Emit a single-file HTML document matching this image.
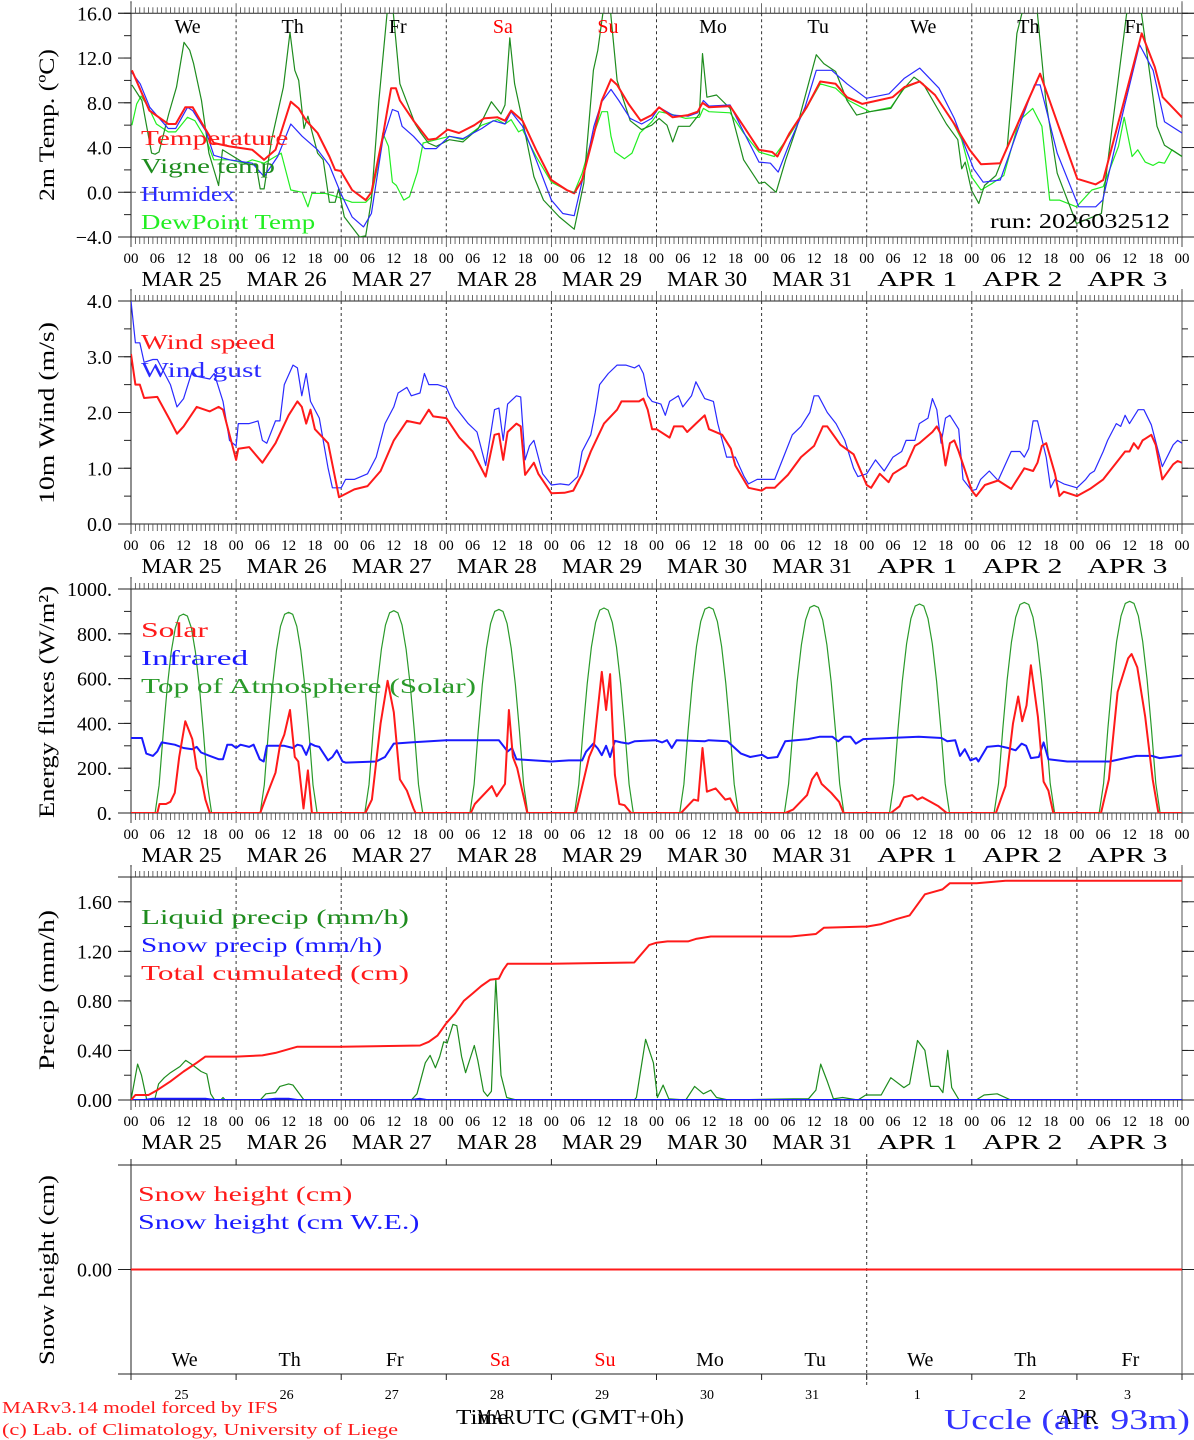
<!DOCTYPE html>
<html><head><meta charset="utf-8"><title>MAR meteogram Uccle</title>
<style>
html,body{margin:0;padding:0;background:#fff;}
svg{display:block;font-family:"Liberation Serif",serif;}
</style></head>
<body>
<svg id="chart" xmlns="http://www.w3.org/2000/svg" width="1194" height="1440" viewBox="0 0 1194 1440"></svg>
<script>
// ---------- DATA ----------
const dayNames = ["We","Th","Fr","Sa","Su","Mo","Tu","We","Th","Fr"];
const dayNameColors = ["#000","#000","#000","#f00","#f00","#000","#000","#000","#000","#000"];
const dateLabels = ["MAR 25","MAR 26","MAR 27","MAR 28","MAR 29","MAR 30","MAR 31","APR  1","APR  2","APR  3"];
const dayNumbers = ["25","26","27","28","29","30","31","1","2","3"];
const hourTickLabels = ["00","06","12","18"];

// Panel 1: temperatures (hour, value)
const tempHours = [0.2,4.2,8.5,10.2,12.4,14.1,16.3,18.9,22.5,27.7,30.4,33,36.5,38.3,40,42.6,45.3,46.6,47.9,50.5,53.6,54.9,57.5,59.4,60.5,61.4,64.5,67.9,69.7,72.3,74.9,78.4,80.6,83.7,85.4,86.8,89.4,92.5,96,99.5,101.2,103,105.6,107.5,109.6,111,113.6,116.4,118.9,120.6,123.7,127.2,129.4,130.5,132,136.8,139.9,143.4,146.4,147.6,150.4,154.3,157.4,160.9,163.5,167,170.5,173.9,176.6,180.1,183.6,188,191.5,194.1,198.5,202.8,207.6,212,216.1,220.3,222,226.8,230.8,233.8,235.6,240];
const tempValues = [10.9,7.3,6.1,6.1,7.6,7.6,6.1,4.4,4.1,3.8,2.9,3.8,8.1,7.5,6.4,5.3,3.2,2.0,1.9,0.2,-0.7,0,5.0,9.3,9.3,8.2,6.4,4.7,4.8,5.6,5.3,6.0,6.6,6.7,6.4,7.3,6.4,3.8,1.1,0.2,-0.1,1.1,5.0,8.2,10.1,9.6,7.9,6.4,6.9,7.6,6.7,6.9,7.2,8.0,7.6,7.7,5.9,3.8,3.6,3.2,5.3,7.6,9.9,9.7,8.5,7.9,8.2,8.5,9.4,9.9,8.7,6.1,3.8,2.5,2.6,6.4,10.6,5.7,1.2,0.7,1.1,8.2,14.2,11.2,8.5,6.7];

const humidexHours = [0.2,2.1,4.3,8.5,10.2,12.9,14.1,17.2,18.9,22.5,27.7,30.4,33.5,36.5,39.1,42.6,45.3,47.9,50.5,53.1,54.9,57.5,59.7,61,61.9,64.5,67.1,69.7,72.7,75.8,80.1,82.7,85.4,86.8,89.4,92.5,96,98.6,101.2,103.8,105.7,107.5,109.6,111.4,114,116.6,118.9,120.6,123.7,127.2,129.4,130.7,132,136.8,139.9,143.4,146,147.8,150.4,153.9,156.5,160,163.5,167.9,173.1,176.6,180.1,184.5,188,192.4,194.6,198.5,202.8,206.3,207.6,211.5,216.4,220.3,221.9,226.8,230.3,233.4,236,240];
const humidexValues = [10.7,9.7,7.6,5.7,5.7,7.6,7.3,5.4,3.3,2.9,2.6,1.4,3.2,6.1,5.0,3.8,2.4,-0.1,-2.2,-3.1,-1.9,4.7,7.4,7.2,5.9,5.0,3.9,3.9,5.0,4.8,5.7,6.4,6.1,7.2,5.9,2.9,-0.7,-1.9,-2.1,2.3,5.9,8.1,9.2,8.2,6.6,6.1,6.6,7.6,6.9,6.8,7.1,8.2,7.7,7.8,5.4,2.7,2.6,1.8,4.4,7.6,10.9,10.9,9.7,8.4,8.8,10.2,11.1,9.3,6.6,2.1,0.9,1.1,5.9,9.6,9.6,3.5,-1.3,-1.3,-0.7,7.6,13.2,10.9,6.3,5.3];

const vigneHours = [0.2,2.5,4.7,5.5,6.4,8.6,10.4,12.1,13.4,14.3,16.1,17.8,20,20.9,25.9,28.6,29.5,30.4,32.1,34.8,36.3,37.4,38.3,39.5,40.4,42.6,43.9,45.3,46.6,47.4,48.7,52.2,53.6,54.9,56.6,59.2,61.4,64.9,66.2,67.9,69.7,72.7,75.8,79.3,82.3,84.5,85.4,86.5,87.6,89.8,92,94.2,97.8,101.2,103.4,105.6,106.6,108.8,111,114,116.6,118.9,120.6,122.4,123.7,125,127.6,129.8,130.5,131.5,133.7,136.8,139.9,143.4,144.7,147.3,149.5,152.1,156.5,158.2,160.9,163.5,165.7,168.7,173.5,176.1,178.8,180.9,186.2,188.8,189.7,190.5,191.9,193.6,194.9,197.5,200.1,202.3,206,208.9,211.5,215.9,221.6,223.4,229,234.3,236,240];
const vigneValues = [9.6,8.2,3.5,3.4,3.6,7.0,9.4,13.4,12.7,11.5,8.2,3.5,0.6,3.8,2.6,2.4,0.3,0.3,4.7,9.4,14.3,10.9,10.0,5.7,6.8,3.5,2.9,-0.9,-0.9,0.3,-2.2,-4.0,-3.9,-0.7,8.2,19,9.7,6.1,5.3,4.4,4.1,4.7,4.5,5.7,8.1,7.0,7.8,13.8,9.7,5.7,1.4,-0.7,-2.2,-3.3,0.8,10.9,12.7,19,10.0,6.4,5.6,6.0,6.6,6.0,4.5,5.9,5.9,7.0,12.4,8.5,8.7,7.5,2.9,0.8,0.9,0,2.9,5.9,12.3,11.5,10.8,8.2,6.9,7.2,7.5,9.1,10.3,9.7,6.1,4.7,2.1,2.7,0.2,-1.0,0.6,1.5,4.1,14.2,20,8.2,1.7,-2.8,-1.9,3.8,21,5.9,4.2,3.2];

const dewHours = [0.2,1.3,2.3,4,5.8,8.5,10.2,12.9,14.6,17.2,18.9,22.5,25.9,27.7,30.4,34.3,36.5,39.1,40.4,41.3,44.4,47,50.5,53.6,54.9,56.6,57.5,58.8,59.7,60.6,62.3,63.6,65.4,66.7,69.7,72.7,75.8,80.1,83.7,85.4,86.8,88.5,89.4,92.5,96,99.5,101.2,103,105.2,107.5,108.8,109.6,110.5,112.7,114.4,116.2,118.9,120.6,123.2,126.7,129.8,130.7,132,136.8,139.9,143.4,146.9,150.4,153.9,157.4,160.9,163.9,168.7,173.5,176.6,180.1,183.6,187.1,189.7,191.9,194.1,196.7,199.3,202.8,205.9,208,209.8,212,214.6,215.9,219.4,222,225.5,226.8,228.6,229.9,231.6,233.4,234.7,236,237.7,240];
const dewValues = [6.0,7.9,8.6,7.6,6.1,5.4,5.4,6.7,6.4,4.7,2.9,2.9,2.6,2.9,2.6,3.5,0.2,0,-1.3,-0.1,-0.1,-0.4,-0.9,-0.9,-0.4,2.9,5.3,4.1,0.9,0.6,-0.7,-0.4,1.8,4.4,4.7,5.0,4.7,6.0,6.5,6.1,6.5,5.4,5.6,3.2,0.9,0.2,0,1.7,4.7,7.2,7.2,5.0,3.6,3.0,3.5,5.3,6.3,7.2,7.0,6.6,6.7,7.5,7.2,7.1,5.3,3.6,3.2,5.1,7.3,9.7,9.3,8.2,7.2,7.6,9.3,9.9,8.7,6.7,4.7,1.4,0.2,0.8,1.5,6.4,7.5,5.9,-0.7,-0.7,-1.1,-1.3,0.2,0.5,4.1,6.7,3.2,3.8,2.7,2.4,2.7,2.6,3.8,3.2];

// Panel 2: wind
const windHours = [0,1,2,3,6,9,10.5,12,15,18,20,21,22.5,24,24.5,27,30,33,36,38,39,40,41,42,45,47.5,48,51,54,57,60,63,66,68,69,72,75,78,81,83,84,85,86,88,89,90,92,93,96,99,101,103,105,108,111,112,114,116,117,118,119,120,123,124,126,127,129,131,132,135,137,138,141,144,145,147,150,153,156,158,159,162,165,168,169,171,173,174,177,179,180,183,184,185,186,187,188,189,192,193,195,198,201,204,206,207,208,209,211,212,213,216,219,222,225,227,228,229,230,231,233,234,235.5,238,239,240];
const windSpeed = [3.05,2.5,2.5,2.26,2.28,1.85,1.62,1.75,2.1,2.02,2.1,2.05,1.6,1.15,1.35,1.38,1.1,1.45,1.95,2.2,2.1,1.8,2.05,1.7,1.45,0.48,0.5,0.62,0.68,0.95,1.5,1.85,1.8,2.05,1.93,1.9,1.55,1.3,0.85,1.6,1.62,1.15,1.65,1.8,1.75,0.88,1.1,0.9,0.55,0.56,0.6,0.9,1.3,1.8,2.05,2.2,2.2,2.2,2.25,2.05,1.7,1.7,1.55,1.75,1.75,1.65,1.8,1.95,1.7,1.6,1.35,1.05,0.65,0.6,0.65,0.65,0.88,1.2,1.4,1.75,1.75,1.42,1.25,0.7,0.65,0.9,0.75,0.9,1.05,1.4,1.45,1.65,1.75,1.6,1.05,1.45,1.5,1.3,0.6,0.5,0.7,0.78,0.63,1.0,0.95,1.1,1.4,1.45,0.9,0.5,0.58,0.5,0.63,0.8,1.1,1.3,1.3,1.45,1.35,1.5,1.6,1.42,0.8,1.07,1.13,1.1];
const gustHours = [0,1,2,3,5,6,9,10.5,12,14,15,18,19,21,22.5,24,24.5,27,29,30,31,33,34,35,37,38,39,40,41,43,45,46,48,49,51,54,56,58,60,61,63,64,66,67,68,70,72,74,77,79,81,83,84,85,86,88,89,90,91,92,93,94,96,98,100,102,103,105,106,107,109,111,113,115,116,117,118,119,121,122,123,125,126,128,129,131,133,134,136,138,140,141,143,147,149,151,153,155,156,157,159,161,163,165,166,168,170,172,174,176,177,179,180,182,183,184,185,186,187,189,190,192,193,194,196,198,201,203,204,205,206,207,209,210,211,213,216,218,219,220,222,223,225,226,227,228,230,231.3,233,235.5,238,239,240];
const windGust = [4.0,3.25,3.25,2.9,2.95,2.95,2.5,2.1,2.25,2.75,2.65,2.6,2.7,2.2,1.5,1.4,1.8,1.8,1.85,1.5,1.45,1.85,1.85,2.5,2.85,2.8,2.3,2.7,2.2,1.9,1.0,0.65,0.65,0.8,0.8,0.9,1.2,1.8,2.1,2.35,2.45,2.3,2.35,2.7,2.5,2.5,2.45,2.1,1.8,1.65,1.05,2.05,2.08,1.5,2.15,2.3,2.28,1.15,1.4,1.5,1.2,0.9,0.7,0.72,0.7,0.85,1.3,1.6,2.0,2.5,2.7,2.85,2.85,2.8,2.85,2.7,2.3,2.2,2.15,1.95,2.2,2.3,2.1,2.3,2.55,2.25,2.2,1.8,1.2,1.2,0.85,0.72,0.8,0.8,1.2,1.6,1.75,2.0,2.3,2.3,2.0,1.8,1.5,1.0,0.85,0.9,1.15,0.95,1.2,1.3,1.5,1.5,1.8,1.9,2.25,2.05,1.45,1.9,1.95,1.7,0.8,0.6,0.62,0.8,0.95,0.78,1.3,1.3,1.2,1.35,1.85,1.85,1.2,0.65,0.8,0.72,0.65,0.8,0.9,0.95,1.3,1.5,1.8,1.75,1.95,1.8,2.05,2.05,1.78,1.03,1.42,1.5,1.45];

// Panel 3: energy fluxes
const solarHours = [0,6,6.5,8,9,10,11,12.4,13,14,15,16,17,18,29.5,31,33,34,35,36.3,37.4,38.2,39.4,40.4,41.3,53.5,55,57,58.6,60,61.4,63,64.5,65,77.6,78.5,82.4,83.5,85.4,86.3,87.2,88.2,90.5,101.6,104.6,105.7,107.5,108.5,109.4,110.5,111.5,112.7,114.2,125.6,128.5,129.5,130.5,131.5,133.5,135.7,136.8,138.5,149.4,151.2,154.4,155.5,156.6,157.7,159.9,161.7,162.7,173.5,175.5,176.5,178.4,179.6,180.7,184.4,186.3,197.5,199.7,201.4,202.6,203.5,204.5,205.5,207.1,208.4,209.5,210.6,221.5,223.3,225.3,227.7,228.5,229.8,231.6,233.3,234.6,240];
const solarValues = [0,0,40,40,50,90,250,410,380,330,200,160,60,0,0,80,180,300,350,460,250,230,20,190,0,0,60,400,590,450,150,100,20,0,0,40,120,75,130,460,250,200,0,0,250,300,630,460,620,170,40,35,0,0,60,55,290,95,110,60,65,0,0,15,80,150,180,130,90,50,0,0,30,70,80,60,70,30,0,0,120,400,520,410,480,660,430,140,100,0,0,150,540,690,710,650,430,150,0,0];
const irHours = [0,2.5,3.5,5,6,7,10,12,14,15,16,18,20,21,22,23,24,25,27,28,29.4,30.3,31,35,37,38,39,40,41,42,43,45,46,47,48.3,49,56,58,60,64,72,84,86,87,88,92,96,100,103,103.9,105.6,106.6,107.5,108.5,109.4,110.5,111.9,113.6,115,119.8,121.3,122.4,123.5,124.6,131,131.9,136.2,139.3,141.4,144.1,145.4,147.6,149.4,154.6,157.2,160.2,161.5,162.8,164.3,165.5,167.2,179.9,185.1,186.4,188.2,189.3,190.4,191.7,193,193.5,195.5,198.1,200.3,202,203.4,204.4,205.5,207.3,208.4,209.5,213.8,223.5,227,229.6,233.1,234.9,239.3,240];
const irValues = [335,335,265,255,275,315,305,290,285,295,270,255,240,240,305,305,290,305,295,305,240,230,300,300,290,305,300,260,310,300,295,235,250,280,230,225,230,250,310,315,325,325,275,290,240,235,230,235,235,273,310,288,258,300,250,322,315,310,320,325,315,325,290,325,320,325,320,265,250,260,245,250,320,330,340,340,320,340,340,310,330,340,335,320,325,255,285,235,245,230,295,300,290,280,310,300,245,250,315,240,230,230,245,255,255,245,255,258];
// TOA solar: daily peak, and daylight window
const toaPeak = [888,896,903,909,915,919,927,933,940,945];
const toaRise = [5.5,5.5,5.4,5.4,5.3,5.3,5.2,5.2,5.1,5.1];
const toaSet = [18.4,18.5,18.6,18.6,18.7,18.7,18.8,18.9,18.9,19.0];
const toaProfile = [0,0.14,0.4,0.63,0.81,0.93,0.99,1,0.99,0.93,0.81,0.63,0.4,0.14,0];

// Panel 4: precipitation
const cumHours = [0,1,4,6,9,12,15,17,24,30,33,36,38,48,66,68,70,72,74,76,78,80,82,84,85,86,96,114.9,118.3,120,122.5,127.2,129,132.4,144,150.7,156.4,158.2,166.9,168,171.3,174.8,177.8,181.3,185.3,187,193.1,199.7,240];
const cumValues = [0,0.04,0.04,0.08,0.15,0.23,0.30,0.35,0.35,0.36,0.38,0.41,0.43,0.43,0.44,0.47,0.52,0.62,0.70,0.80,0.86,0.92,0.97,0.98,1.05,1.1,1.1,1.11,1.25,1.27,1.28,1.28,1.30,1.32,1.32,1.32,1.34,1.39,1.40,1.40,1.42,1.46,1.49,1.66,1.70,1.75,1.75,1.77,1.77];
const liqHours = [0,1.5,2.4,3.6,5.4,6.3,7.6,9,11.2,12.5,13.8,16,17.3,18.2,19.1,20.5,21,21.5,29.5,30.8,33,34,36,37,39.5,64,65.3,67.2,68.3,69.5,70.5,71.4,72.2,73.5,74.4,75.5,76.4,78.4,79.2,80.5,81.4,82.3,83.3,84.5,85.8,88,114.9,115.4,117.5,119.3,120.2,121.5,122.8,126.7,128.7,130.7,132.4,133.7,136.4,151.2,154.7,156.4,157.5,159,160.4,162.5,166,167.8,171.3,173.5,176.5,177.8,179.6,181.3,182.6,184.4,185.4,186.5,187.4,189.1,193,194.8,197.8,200.9,240];
const liqValues = [0,0.29,0.2,0,0,0.13,0.18,0.22,0.27,0.32,0.29,0.23,0.21,0.05,0,0,0.02,0,0,0.05,0.06,0.11,0.13,0.12,0,0,0.05,0.30,0.36,0.26,0.35,0.47,0.46,0.61,0.60,0.35,0.22,0.44,0.32,0.07,0.03,0.07,0.98,0.2,0.02,0,0,0.02,0.49,0.3,0.02,0.12,0.01,0,0.11,0.05,0.08,0.02,0,0.01,0.01,0.08,0.29,0.15,0.01,0.02,0,0.04,0.04,0.18,0.1,0.13,0.48,0.4,0.11,0.11,0.06,0.4,0.1,0,0,0.04,0.05,0,0];
const snowPHours = [0,3,5,10,17,19,24,30,33,36,38,64,66,67.5,240];
const snowPValues = [0,0,0.01,0.01,0.01,0,0,0,0.01,0.01,0,0,0.01,0,0];

// Panel 5: snow height
const snowHours = [0,240];
const snowHeight = [0,0];

// ---------- DRAWING ----------
const NS = "http://www.w3.org/2000/svg";
const svg = document.getElementById("chart");
const X0 = 131, X1 = 1182, HMAX = 240;
function xOf(h){ return X0 + h*(X1-X0)/HMAX; }
function mk(tag, attrs, parent){
  const e = document.createElementNS(NS, tag);
  for (const k in attrs) e.setAttribute(k, attrs[k]);
  (parent||svg).appendChild(e);
  return e;
}
function txt(s, x, y, size, color, anchor, parent, len){
  const t = mk("text", {x:x, y:y, "font-size":size, fill:color||"#000", "text-anchor":anchor||"start"}, parent);
  if (len){ t.setAttribute("textLength", len); t.setAttribute("lengthAdjust","spacingAndGlyphs"); }
  t.setAttribute("xml:space","preserve");
  t.textContent = s;
  return t;
}
const panels = [
  {id:"temp", top:13.3, bottom:237, min:-4, max:16, major:[-4,0,4,8,12,16], labels:["\u22124.0","0.0","4.0","8.0","12.0","16.0"], minorStep:2, title:"2m Temp. (\u00baC)", tcy:125, tlen:152},
  {id:"wind", top:301, bottom:524, min:0, max:4, major:[0,1,2,3,4], labels:["0.0","1.0","2.0","3.0","4.0"], minorStep:0.5, title:"10m Wind (m/s)", tcy:413, tlen:182},
  {id:"energy", top:589, bottom:813, min:0, max:1000, major:[0,200,400,600,800,1000], labels:["0.","200.","400.","600.","800.","1000."], minorStep:100, title:"Energy fluxes (W/m\u00b2)", tcy:702, tlen:232},
  {id:"precip", top:877, bottom:1100, min:0, max:1.8, major:[0,0.4,0.8,1.2,1.6], labels:["0.00","0.40","0.80","1.20","1.60"], minorStep:0.2, title:"Precip (mm/h)", tcy:990, tlen:160},
  {id:"snow", top:1165, bottom:1374, min:-1, max:1, major:[0], labels:["0.00"], minorStep:0, title:"Snow height (cm)", tcy:1270, tlen:190}
];
function yOf(p, v){ return p.bottom - (v-p.min)/(p.max-p.min)*(p.bottom-p.top); }

panels.forEach((p, i) => {
  const g = mk("g", {});
  
  
  const clip = mk("clipPath", {id:"clip-"+p.id}, g);
  mk("rect", {x:X0, y:p.top, width:X1-X0, height:p.bottom-p.top}, clip);
  const ax = mk("g", {stroke:"#222", "stroke-width":1, fill:"none"}, g);
  
  
  const isSnow = p.id === "snow";
  mk("line", {x1:118, y1:p.top, x2:1194, y2:p.top}, ax);
  mk("line", {x1:118, y1:p.bottom, x2:1194, y2:p.bottom}, ax);
  mk("line", {x1:X0, y1:p.top-(isSnow?5:12), x2:X0, y2:p.bottom+(isSnow?6:10)}, ax);
  mk("line", {x1:X1, y1:p.top-(isSnow?5:12), x2:X1, y2:p.bottom+(isSnow?6:10), stroke:"#555"}, ax);
  for (let h=0; h<=HMAX; h++){
    const x = xOf(h);
    if (isSnow){
      if (h%24===0){
        mk("line", {x1:x, y1:p.top-6, x2:x, y2:p.top}, ax);
        mk("line", {x1:x, y1:p.bottom, x2:x, y2:p.bottom+6}, ax);
      }
    } else {
      const big = h%24===0;
      mk("line", {x1:x, y1:p.top-(big?10:6), x2:x, y2:p.top, stroke:"#444", "stroke-width":0.8}, ax);
      mk("line", {x1:x, y1:p.bottom, x2:x, y2:p.bottom+(big?10:7), stroke:"#444", "stroke-width":0.8}, ax);
    }
  }
  if (p.minorStep){
    for (let v=p.min; v<=p.max+1e-9; v+=p.minorStep){
      const y = yOf(p, v);
      mk("line", {x1:124, y1:y, x2:X0, y2:y}, ax);
      mk("line", {x1:X1, y1:y, x2:1188, y2:y}, ax);
    }
  }
  p.major.forEach((v, k) => {
    const y = yOf(p, v);
    mk("line", {x1:118, y1:y, x2:X0, y2:y}, ax);
    mk("line", {x1:X1, y1:y, x2:1194, y2:y}, ax);
    const t = txt(p.labels[k], 112, y+7, 20, "#000", "end", g);
    
    
  });
  if (!isSnow){
    for (let d=1; d<10; d++){
      const x = xOf(d*24);
      mk("line", {x1:x, y1:p.top, x2:x, y2:p.bottom, stroke:"#333", "stroke-width":1, "stroke-dasharray":"3,3"}, g);
    }
  } else {
    const x = xOf(168);
    mk("line", {x1:x, y1:1154, x2:x, y2:1386, stroke:"#333", "stroke-width":1, "stroke-dasharray":"3,3"}, g);
  }
  const tt = txt(p.title, 0, 0, 22, "#000", "middle", g, p.tlen);
  tt.setAttribute("transform", "translate(54," + p.tcy + ") rotate(-90)");
  
  
  if (!isSnow){
    for (let h=0; h<=HMAX; h+=6){
      const t = txt(hourTickLabels[(h/6)%4], xOf(h), p.bottom+26, 15, "#000", "middle", g);
      
      
    }
    dateLabels.forEach((s, d) => {
      const t = txt(s, xOf(d*24+12)-2, p.bottom+49, 21, "#000", "middle", g, 80);
      
      
    });
  } else {
    dayNumbers.forEach((s, d) => {
      const t = txt(s, xOf(d*24+12)-2, 1399, 14, "#000", "middle", g);
      
      
    });
    dayNames.forEach((s, d) => {
      const t = txt(s, xOf(d*24+12)+1, 1366, 20, dayNameColors[d], "middle", g);
      
      
    });
  }
  p.g = g;
});

dayNames.forEach((s, d) => {
  const t = txt(s, xOf(d*24+12)+4, 33, 20, dayNameColors[d], "middle");
  
  
});
mk("line", {x1:X0, y1:yOf(panels[0],0), x2:X1, y2:yOf(panels[0],0), stroke:"#555", "stroke-dasharray":"5,4"});

function series(pi, hours, vals, color, width, name){
  const p = panels[pi];
  const pts = hours.map((h, k) => xOf(h).toFixed(1) + "," + yOf(p, vals[k]).toFixed(1)).join(" ");
  const pl = mk("polyline", {points:pts, fill:"none", stroke:color, "stroke-width":width, "stroke-linejoin":"round", "clip-path":"url(#clip-"+p.id+")"}, p.g);
  
  
}
function legend(x, y, s, color, name){
  const t = txt(s, x, y, 21, color, "start", svg, s.length*13.4);
  
  
}

series(0, dewHours, dewValues, "#22ee22", 1.2, "dewpoint-line");
series(0, vigneHours, vigneValues, "#1e8c1e", 1.2, "vigne-temp-line");
series(0, humidexHours, humidexValues, "#2a2aff", 1.2, "humidex-line");
series(0, tempHours, tempValues, "#ff1a1a", 2, "temperature-line");
legend(141, 145, "Temperature", "#ff1a1a", "legend-temperature");
legend(141, 173, "Vigne temp", "#1e8c1e", "legend-vigne-temp");
legend(141, 201, "Humidex", "#2a2aff", "legend-humidex");
legend(141, 229, "DewPoint Temp", "#22ee22", "legend-dewpoint");
const run = txt("run: 2026032512", 990, 228, 21, "#000", "start", svg, 180);



series(1, gustHours, windGust, "#2a2aff", 1.2, "wind-gust-line");
series(1, windHours, windSpeed, "#ff1a1a", 2, "wind-speed-line");
legend(141, 349, "Wind speed", "#ff1a1a", "legend-wind-speed");
legend(141, 377, "Wind gust", "#2a2aff", "legend-wind-gust");

const toaH = [], toaV = [];
toaPeak.forEach((pk, d) => {
  const n = toaProfile.length;
  toaProfile.forEach((f, k) => {
    toaH.push(d*24 + toaRise[d] + (toaSet[d]-toaRise[d])*k/(n-1));
    toaV.push(pk*f);
  });
});
toaH.unshift(0); toaV.unshift(0); toaH.push(240); toaV.push(0);
series(2, toaH, toaV, "#2a9a2a", 1.2, "toa-solar-line");
series(2, irHours, irValues, "#1a1aff", 2, "infrared-line");
series(2, solarHours, solarValues, "#ff1a1a", 2, "solar-line");
legend(141, 637, "Solar", "#ff1a1a", "legend-solar");
legend(141, 665, "Infrared", "#1a1aff", "legend-infrared");
legend(141, 693, "Top of Atmosphere (Solar)", "#2a9a2a", "legend-toa");

series(3, liqHours, liqValues, "#1e8c1e", 1.2, "liquid-precip-line");
series(3, snowPHours, snowPValues, "#1a1aff", 2, "snow-precip-line");
series(3, cumHours, cumValues, "#ff1a1a", 2, "total-cumulated-line");
legend(141, 924, "Liquid precip (mm/h)", "#1e8c1e", "legend-liquid-precip");
legend(141, 952, "Snow precip (mm/h)", "#1a1aff", "legend-snow-precip");
legend(141, 980, "Total cumulated (cm)", "#ff1a1a", "legend-total-cumulated");

series(4, snowHours, snowHeight, "#ff1a1a", 2, "snow-height-line");
legend(138, 1201, "Snow height (cm)", "#ff1a1a", "legend-snow-height");
legend(138, 1229, "Snow height (cm W.E.)", "#1a1aff", "legend-snow-we");

const f1 = txt("MARv3.14 model forced by IFS", 2, 1413, 17, "#ff1a1a", "start", svg, 276);


const f2 = txt("(c) Lab. of Climatology, University of Liege", 2, 1435, 17, "#ff1a1a", "start", svg, 396);


const xt = txt("Time UTC (GMT+0h)", 456, 1424, 21, "#000", "start", svg, 228);


const m1 = txt("MAR", 477, 1424, 21, "#000", "start", svg, 38);


const m2 = txt("APR", 1058, 1424, 21, "#000", "start", svg, 40);


const st = txt("Uccle (alt. 93m)", 944, 1429, 29, "#3333ff", "start", svg, 246);


</script>
</body></html>
